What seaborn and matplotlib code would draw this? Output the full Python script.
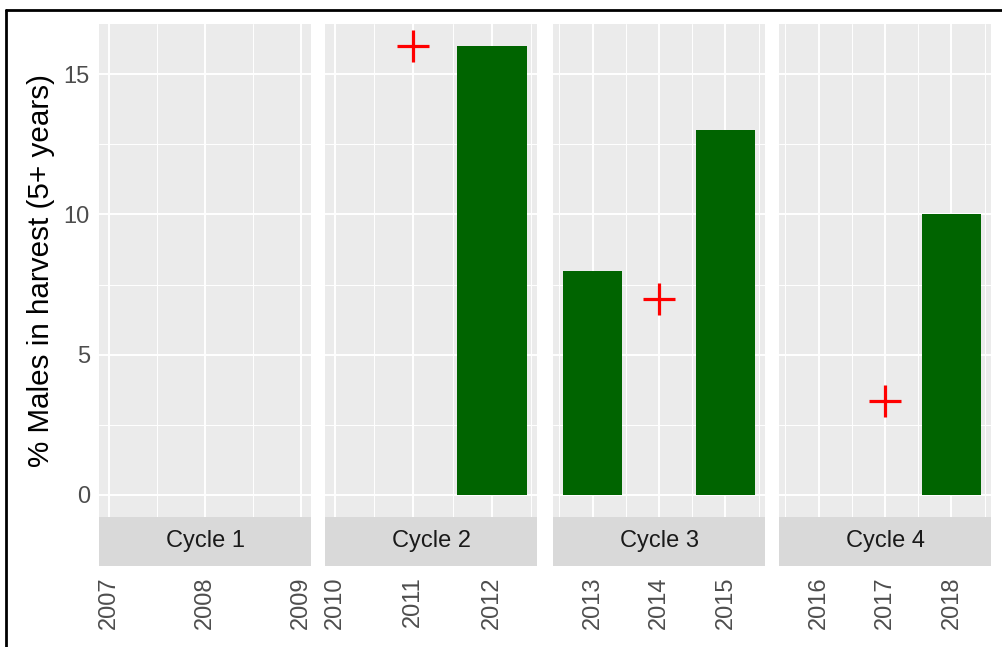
import numpy as np
import pandas as pd
import matplotlib
matplotlib.use("Agg")
import matplotlib.pyplot as plt
from matplotlib.lines import Line2D
import seaborn as sns

# data
years = list(range(2007, 2019))
cycles = ["Cycle 1"] * 3 + ["Cycle 2"] * 3 + ["Cycle 3"] * 3 + ["Cycle 4"] * 3
bar_pct = [0, 0, 0, 0, 0, 16, 8, 0, 13, 0, 0, 10]
cross_years = [2011, 2014, 2017]
cross_pct = [16, 7, 3.35]

cycle_names = ["Cycle 1", "Cycle 2", "Cycle 3", "Cycle 4"]
x_limits = [(2006.9, 2009.1), (2009.8775, 2012.5725),
            (2012.405, 2015.595), (2015.405, 2018.595)]

bars = pd.DataFrame({"year": years, "cycle": cycles, "pct": bar_pct})
crosses = pd.DataFrame({"year": cross_years, "pct": cross_pct})
crosses["cycle"] = crosses["year"].map(dict(zip(years, cycles)))

sns.set_style("white")
plt.rcParams["font.family"] = ["Liberation Sans", "DejaVu Sans"]

W, H = 1002, 647
fig = plt.figure(figsize=(W / 100, H / 100), dpi=100)

panel_left = [99, 325, 553, 779]
panel_w = 212
top, bottom, strip_h = 24, 517, 49

for i, name in enumerate(cycle_names):
    x0 = panel_left[i]
    ax = fig.add_axes([x0 / W, 1 - bottom / H, panel_w / W, (bottom - top) / H])
    ax.set_facecolor("#EBEBEB")
    ax.set_axisbelow(True)

    sub = bars[bars["cycle"] == name]
    sns.barplot(data=sub, x="year", y="pct", native_scale=True, width=0.9,
                color="#006400", saturation=1, errorbar=None, linewidth=0, ax=ax)
    csub = crosses[crosses["cycle"] == name]
    if len(csub):
        sns.scatterplot(data=csub, x="year", y="pct", marker="+", s=520,
                        color="red", linewidth=2.3, ax=ax, zorder=5)

    # axis sits below the strip
    for s in ax.spines.values():
        s.set_visible(False)
    ax.spines["bottom"].set_position(("outward", strip_h * 72 / 100))

    lo, hi = x_limits[i]
    ax.set_xlim(lo, hi)
    ax.set_ylim(-0.8, 16.8)
    sub_years = sub["year"].tolist()
    ax.set_xticks(sub_years)
    ax.set_xticklabels([str(y) for y in sub_years], rotation=90, va="top", ha="center")
    minor = [m + 0.5 for m in range(int(np.floor(lo)), int(np.ceil(hi)))
             if lo < m + 0.5 < hi]
    ax.set_xticks(minor, minor=True)
    ax.set_yticks([0, 5, 10, 15])
    ax.set_yticks([2.5, 7.5, 12.5], minor=True)
    ax.grid(which="major", color="white", linewidth=1.4)
    ax.grid(which="minor", color="white", linewidth=0.7)
    ax.tick_params(which="minor", length=0)
    ax.tick_params(axis="x", which="major", length=4.3, width=1.1, color="#333333",
                   labelsize=17, labelcolor="#4D4D4D", pad=3)
    ax.tick_params(axis="y", which="major", length=4.5, width=1.1, color="#333333",
                   labelsize=17, labelcolor="#4D4D4D", pad=2)
    if i > 0:
        ax.tick_params(axis="y", which="major", left=False, labelleft=False)
    ax.set_xlabel("")
    ax.set_ylabel("")
    if i == 0:
        ax.set_ylabel("% Males in harvest (5+ years)", fontsize=21.3, color="black",
                      labelpad=6)

    # facet strip below the panel
    sax = fig.add_axes([x0 / W, 1 - (bottom + strip_h) / H, panel_w / W, strip_h / H])
    sax.set_facecolor("#D9D9D9")
    sax.set_xticks([])
    sax.set_yticks([])
    for s in sax.spines.values():
        s.set_visible(False)
    sax.text(0.5, 0.5, name, ha="center", va="center", fontsize=17,
             color="#1A1A1A", transform=sax.transAxes)

# black frame at top and left
fig.add_artist(Line2D([6 / W, 1], [1 - 10 / H, 1 - 10 / H], color="black",
                      linewidth=2, transform=fig.transFigure))
fig.add_artist(Line2D([6 / W, 6 / W], [0, 1 - 10 / H], color="black",
                      linewidth=2, transform=fig.transFigure))

fig.savefig("out.png", dpi=100)
